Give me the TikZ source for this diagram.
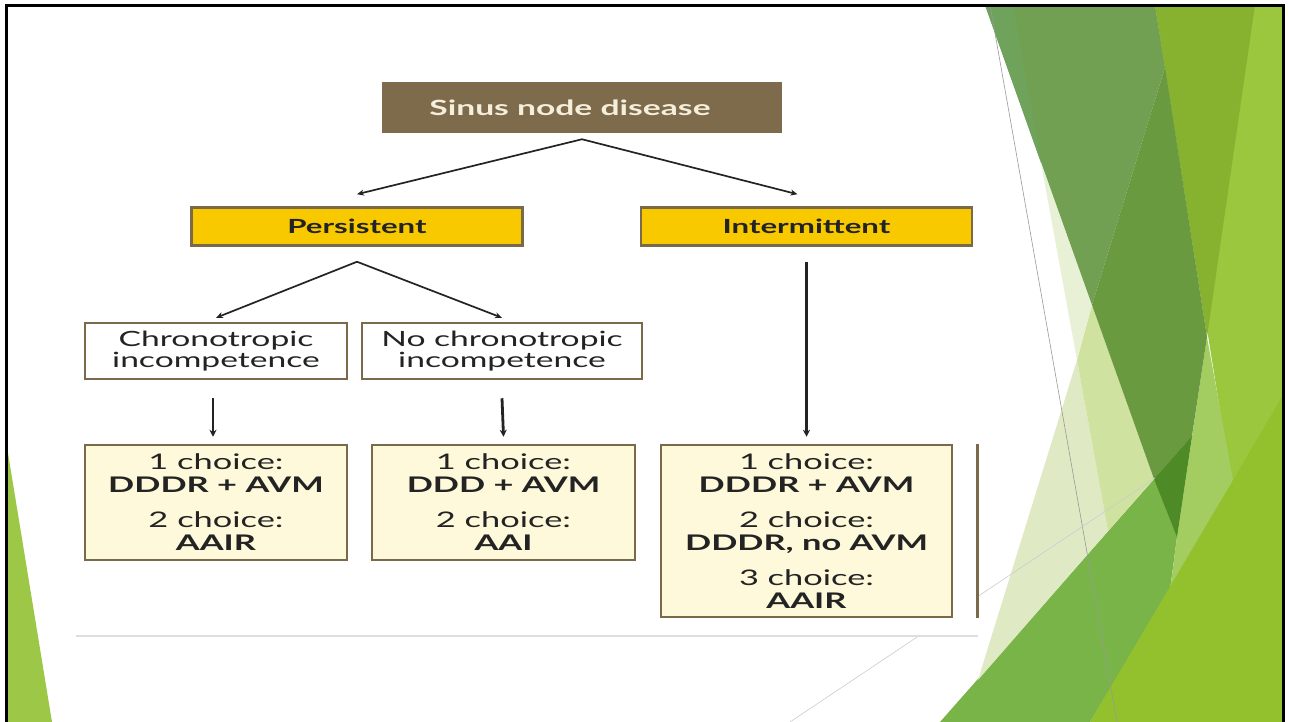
\documentclass[tikz,border=0pt]{standalone}
\usepackage{fontspec}
\newfontfamily\chartfont[FakeStretch=1.6]{Lato}
\usepackage{xcolor}
\usetikzlibrary{positioning}
\usetikzlibrary{arrows.meta}

\definecolor{sndbrown}{HTML}{7E6B4B}
\definecolor{sndtext}{HTML}{F4EEDC}
\definecolor{typegold}{HTML}{F9C900}
\definecolor{boxrim}{HTML}{7B6A49}
\definecolor{choicecream}{HTML}{FDF9DA}
\definecolor{inkgray}{HTML}{232323}
\definecolor{rulegray}{HTML}{DEDEDE}
\definecolor{leafband}{HTML}{9BC73F}
\definecolor{leafolive}{HTML}{86B230}
\definecolor{leafmuted}{HTML}{71A052}
\definecolor{leafsliver}{HTML}{6FA35C}
\definecolor{leafdark}{HTML}{6A9A40}
\definecolor{leafdeep}{HTML}{4E8A26}
\definecolor{leafpale}{HTML}{E8F0D6}
\definecolor{leafmid}{HTML}{D0E2A0}
\definecolor{leafwash}{HTML}{DFEAC4}
\definecolor{leafgrass}{HTML}{79B449}
\definecolor{leaflime}{HTML}{93C12E}
\definecolor{leaflight}{HTML}{A3CD60}
\definecolor{leafleft}{HTML}{9DC847}

\tikzset{
  box/.style={draw=boxrim, line width=2.5pt, inner sep=0pt, align=center, text=inkgray},
  headbox/.style={box, draw=none, fill=sndbrown, text=sndtext,
    font=\chartfont\bfseries\fontsize{21}{24}\selectfont},
  typebox/.style={box, fill=typegold, font=\chartfont\bfseries\fontsize{19.5}{22}\selectfont},
  chronbox/.style={box, fill=white, font=\chartfont\fontsize{21}{21.5}\selectfont},
  choicebox/.style={box, fill=choicecream, font=\chartfont\fontsize{21.5}{23}\selectfont},
  split/.style={draw=inkgray, line width=1.7pt, -{Stealth[length=7pt,width=6pt]}},
  drop/.style={draw=inkgray, line width=2.8pt, -{Stealth[length=7pt,width=7pt]}},
  hairline/.style={draw=#1, line width=0.6pt}
}

\begin{document}
\begin{tikzpicture}[x=1pt,y=-1pt]
  \useasboundingbox (0,0) rectangle (1289,722);
  \fill[white] (0,0) rectangle (1289,722);

  % facets on the right
  \fill[leafband] (1155,5) -- (1283,5) -- (1283,722) -- (1270,722) -- cycle;
  \fill[leafgrass] (940,722) -- (1192,436) -- (1177,537) -- (1170,590) -- (1090,722) -- cycle;
  \fill[leaflight] (1207,337) -- (1233,480) -- (1170,590) -- (1177,537) -- cycle;
  \fill[leaflime] (1090,722) -- (1233,480) -- (1283,395) -- (1283,722) -- cycle;
  \fill[leafwash] (1077,360) -- (1108,531) -- (978,680) -- cycle;
  \fill[leafmid] (1077,360) -- (1092,305) -- (1154,479) -- (1108,531) -- cycle;
  \fill[leafpale] (1041,163) -- (1092,305) -- (1077,360) -- cycle;
  \fill[leafmuted] (985,5) -- (1155,5) -- (1165,67) -- (1092,305) -- cycle;
  \fill[leafsliver] (985,5) -- (1013,5) -- (1041,163) -- cycle;
  \fill[leafolive] (1155,5) -- (1255,5) -- (1207,337) -- cycle;
  \fill[leafdark] (1165,67) -- (1207,337) -- (1192,436) -- (1154,479) -- (1092,305) -- cycle;
  \fill[leafdeep] (1154,479) -- (1192,436) -- (1177,537) -- cycle;
  % facet on the left
  \fill[leafleft] (7,447) -- (52,722) -- (7,722) -- cycle;
  \draw[hairline=gray!80] (990,5) -- (1117,722);
  \draw[hairline=gray!40] (790,722) -- (1155,478);

  % pasted chart
  \fill[white] (76,40) rectangle (978,636);
  \draw[rulegray, line width=1.5pt] (76,636) -- (978,636);
  \draw[boxrim, line width=3pt] (977,444) -- (977,618);

  \node[headbox, minimum width=400pt, minimum height=51pt] (snd) at (582,107.5) {Sinus node disease\hspace*{24pt}};
  \node[typebox, minimum width=331pt, minimum height=38pt] (pers) at (357,226.5) {Persistent};
  \node[typebox, minimum width=331pt, minimum height=38pt] (inter) at (806.5,226.5) {Intermittent};
  \node[chronbox, minimum width=262pt, minimum height=56pt] (chron) at (216,351) {Chronotropic\\incompetence};
  \node[chronbox, minimum width=280pt, minimum height=56pt] (nochron) at (502,351) {No chronotropic\\incompetence};
  \node[choicebox, minimum width=262pt, minimum height=115pt] (ch1) at (216,502.5)
    {1 choice:\\\textbf{DDDR + AVM}\\[12pt]2 choice:\\\textbf{AAIR}};
  \node[choicebox, minimum width=263pt, minimum height=115pt] (ch2) at (503.5,502.5)
    {1 choice:\\\textbf{DDD + AVM}\\[12pt]2 choice:\\\textbf{AAI}};
  \node[choicebox, minimum width=291pt, minimum height=172pt] (ch3) at (806.5,531)
    {1 choice:\\\textbf{DDDR + AVM}\\[12pt]2 choice:\\\textbf{DDDR, no AVM}\\[12pt]3 choice:\\\textbf{AAIR}};

  \coordinate (sndfork) at ([yshift=-5pt]snd.south);
  \coordinate (persfork) at ([yshift=-15pt]pers.south);
  \draw[split] (sndfork) -- ([yshift=12pt]pers.north);
  \draw[split] (sndfork) -- ([xshift=-9pt,yshift=12pt]inter.north);
  \draw[split] (persfork) -- ([yshift=4pt]chron.north);
  \draw[split] (persfork) -- ([yshift=4pt]nochron.north);
  \draw[drop] ([xshift=-3pt,yshift=-18pt]chron.south) -- ([xshift=-3pt,yshift=7pt]ch1.north);
  \draw[drop] ([yshift=-18pt]nochron.south) -- ([yshift=7pt]ch2.north);
  \draw[drop] ([yshift=-15pt]inter.south) -- ([yshift=7pt]ch3.north);

  % slide frame
  \draw[black, line width=3pt] (6,722) -- (6,5.5) -- (1283.5,5.5) -- (1283.5,722);
\end{tikzpicture}
\end{document}
